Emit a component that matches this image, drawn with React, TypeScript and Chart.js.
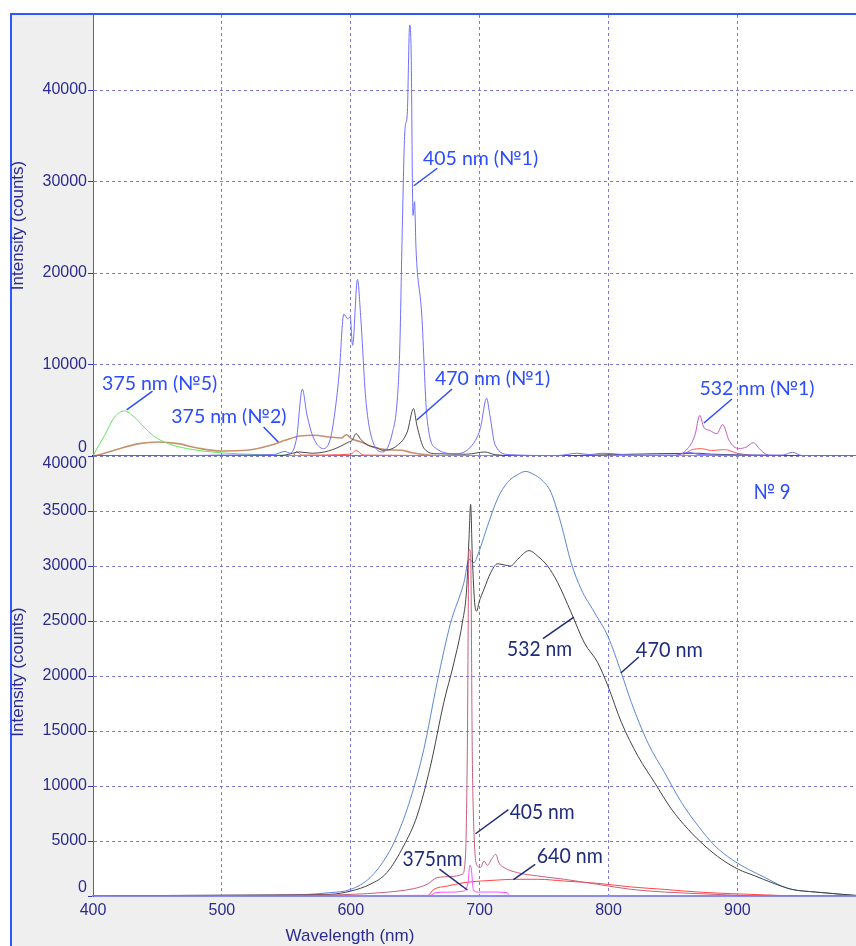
import { useEffect, useRef } from 'react';
import { Chart, registerables } from 'chart.js';
Chart.register(...registerables);

const WL_MIN = 400;
const WL_MAX = 992;
const xTicks = [400, 500, 600, 700, 800, 900];

// ---------- TOP PANEL (mixed sources) ----------
const top405X = [400, 450, 500, 540, 549, 553, 558, 562.4, 566, 571, 579, 584, 587, 591, 594.6, 597.6, 599.5, 601.4, 605.2, 607.8, 611.6, 617.3, 625, 632.4, 636, 638, 640, 642, 643.8, 645.7, 646.8, 648.3, 649.5, 650.6, 655.1, 659, 666.5, 681.6, 693, 700.5, 705.4, 708, 712, 723, 760, 776, 785, 795, 820, 852, 862, 871, 900, 935, 942.7, 950, 992];
const top405Y = [0, 0, 100, 150, 500, 300, 2000, 7300, 4500, 2000, 800, 1800, 4100, 9000, 15500, 15000, 15200, 12100, 19300, 15000, 6300, 1500, 440, 2600, 6000, 11700, 25000, 35600, 37300, 47100, 44500, 26300, 27800, 22700, 15400, 4400, 800, 250, 1000, 3000, 6300, 4400, 1200, 150, 50, 300, 150, 300, 100, 100, 400, 150, 100, 100, 400, 50, 0];

const top470X = [400, 540, 549, 560.5, 570, 579.5, 586, 590.8, 598.4, 601, 604.1, 607.8, 613.5, 620, 625, 636.2, 643.8, 648.7, 651.3, 657, 666.5, 690, 704, 712, 738, 870, 880, 992];
const top470Y = [0, 0, 100, 440, 300, 440, 700, 980, 1530, 1700, 2440, 1800, 1170, 900, 620, 1170, 2620, 5180, 3350, 800, 250, 200, 440, 150, 0, 300, 200, 0];

const top375n5X = [400, 401.6, 409, 416.8, 424.3, 432, 439.5, 447, 458.4, 473.5, 492.4, 511, 549, 587, 992];
const top375n5Y = [0, 440, 2260, 4260, 4920, 4260, 3170, 2190, 1350, 800, 440, 250, 80, 0, 0];

const top375n2X = [400, 405.4, 420.5, 435.7, 450.8, 466, 481, 500, 519, 537.8, 549, 560.5, 571.9, 583.2, 592.7, 596.5, 600.3, 607.8, 617.3, 628.6, 640, 647.6, 662.7, 680, 992];
const top375n2Y = [0, 150, 800, 1350, 1530, 1350, 875, 550, 620, 1170, 1710, 2190, 2260, 2080, 1970, 2330, 1900, 1530, 980, 690, 620, 360, 70, 0, 0];

const top532X = [400, 840, 851.9, 861.3, 867, 870.8, 873.8, 878.4, 884, 888.6, 893.5, 901, 906.8, 912.4, 917, 922, 927.5, 992];
const top532Y = [0, 0, 50, 800, 2260, 4450, 3170, 2800, 2440, 3430, 1710, 800, 980, 1460, 800, 200, 0, 0];

const topRedX = [400, 555, 558, 562, 600, 604, 610, 855, 865, 872, 880, 890, 900, 920, 992];
const topRedY = [0, 0, 500, 100, 200, 600, 100, 0, 700, 800, 600, 700, 300, 0, 0];

const topBaseX = [400, 992];
const topBaseY = [0, 0];

const topTicksY = [0, 10000, 20000, 30000, 40000];

// ---------- BOTTOM PANEL (sample № 9) ----------
const bot470X = [400, 540, 583.9, 600, 615, 628, 635.8, 646.2, 656.6, 667, 677.4, 687.8, 691.7, 695.6, 698.2, 706, 713.8, 721.6, 729.4, 735.8, 742.3, 747.5, 755.3, 763, 771, 778.7, 789, 799.5, 809.9, 817.7, 830.6, 843.6, 856.6, 869.6, 882.6, 895.6, 908.6, 921.6, 934.5, 942.3, 960.5, 981.3, 992];
const bot470Y = [0, 50, 300, 600, 1670, 3640, 5450, 8790, 13300, 19400, 24800, 28500, 30600, 30300, 30900, 33600, 36100, 37600, 38300, 38600, 38300, 37900, 36700, 33900, 30300, 27900, 25800, 23600, 20300, 17600, 13900, 11200, 8500, 6360, 4550, 3330, 2420, 1670, 900, 600, 360, 150, 50];

const bot532X = [400, 540, 583.9, 600, 615, 628, 641, 651.4, 661.8, 672.2, 680, 686.5, 689.9, 691.7, 693, 694.3, 696.1, 697.7, 699.5, 703.4, 708.6, 713.8, 719, 724, 729.4, 738.4, 745, 752.7, 760.5, 770.9, 781.3, 791.7, 799.5, 809.9, 822.9, 835.8, 848.8, 861.8, 874.8, 887.8, 900.8, 913.8, 926.8, 942.3, 960.5, 981.3, 992];
const bot532Y = [0, 100, 150, 450, 1060, 2120, 4550, 7270, 11800, 17600, 21200, 24800, 27900, 32400, 35600, 30900, 26700, 25900, 26700, 27900, 29400, 30200, 30100, 30000, 30600, 31400, 30900, 30000, 28500, 25800, 23000, 21200, 19100, 15800, 12700, 10300, 7900, 6060, 4550, 3330, 2420, 1820, 1210, 600, 360, 150, 50];

const bot405X = [400, 500, 583.9, 622.9, 648.8, 659.2, 667, 677.4, 686.5, 689, 690.4, 691.7, 693, 694.3, 695.6, 698.2, 700.8, 703.4, 706, 709.9, 712.5, 715, 719, 729.4, 745, 765.7, 791.7, 817.7, 843.6, 882.6, 921.6, 992];
const bot405Y = [0, 50, 100, 300, 670, 1060, 1670, 1760, 1970, 3640, 12700, 31500, 31200, 12700, 5760, 2730, 2600, 3180, 2800, 3480, 3790, 3000, 2580, 2120, 1820, 1520, 1060, 600, 360, 150, 0, 0];

const bot640X = [400, 659.2, 664.4, 674.8, 687.8, 700.8, 713.8, 726.8, 745, 765.7, 791.7, 817.7, 843.6, 869.6, 895.6, 921.6, 950, 992];
const bot640Y = [0, 0, 600, 900, 1210, 1360, 1450, 1520, 1520, 1360, 1150, 820, 600, 360, 210, 100, 0, 0];

const bot375X = [400, 661.8, 665.7, 674.8, 687.8, 690.9, 692.5, 693.5, 695.1, 698.2, 708.6, 721.6, 722.9, 992];
const bot375Y = [0, 60, 300, 350, 450, 1210, 2790, 2500, 600, 360, 360, 300, 0, 0];

const botTicksY = [0, 5000, 10000, 15000, 20000, 25000, 30000, 35000, 40000];

// ---------- annotations (data coordinates) ----------
const TOP_LABEL_COLOR = '#2b4cff';
const BOT_LABEL_COLOR = '#1f2c7c';
const topNotes = [
  { text: '405 nm (№1)', x: 700.7, y: 32460, l: [667.1, 31450, 649, 29540], w: 118 },
  { text: '470 nm (№1)', x: 710, y: 8420, l: [678.6, 7320, 651.2, 3930], w: 118 },
  { text: '375 nm (№5)', x: 451.7, y: 7870, l: [446.2, 7100, 426.1, 5030], w: 118 },
  { text: '375 nm (№2)', x: 505.4, y: 4260, l: [532.4, 3170, 543.7, 1530], w: 118 },
  { text: '532 nm (№1)', x: 915.2, y: 7320, l: [895.7, 6230, 874, 3610], w: 118 },
];
const botNotes = [
  { text: '532 nm', x: 746.5, y: 22450, l: [749.1, 23390, 773.1, 25360], w: 65 },
  { text: '470 nm', x: 847.2, y: 22360, l: [823.5, 21730, 809.5, 20270], w: 67 },
  { text: '405 nm', x: 748.5, y: 7640, l: [722.3, 7850, 696.8, 5660], w: 65 },
  { text: '375nm', x: 663.4, y: 3360, l: [668.8, 2450, 690.5, 545], w: 60 },
  { text: '640 nm', x: 769.9, y: 3640, l: [743.1, 2880, 726.2, 1480], w: 66 },
];
const botTag = { text: '№ 9', x: 926.8, y: 36720, w: 37 };

const TICK_COLOR = '#2b2b92';
const GRID_COLOR = '#7c7cd8';
const FRAME_COLOR = '#2f56ff';

const pts = (xs: number[], ys: number[]) => xs.map((x, i) => ({ x, y: ys[i] }));
const line = (label: string, xs: number[], ys: number[], color: string, width = 1) => ({
  label,
  data: pts(xs, ys),
  borderColor: color,
  borderWidth: width,
  pointRadius: 0,
  fill: false,
  cubicInterpolationMode: 'monotone' as const,
});

const panelPlugin = {
  id: 'panel',
  beforeDraw(chart: any, _a: any, opts: any) {
    const { ctx, chartArea: ca, width, height } = chart;
    ctx.save();
    ctx.fillStyle = '#ffffff';
    ctx.fillRect(0, 0, width, height);
    ctx.fillStyle = '#efefef';
    ctx.fillRect(12, opts.frameTop, width - 12, height - opts.frameTop);
    ctx.fillStyle = '#ffffff';
    ctx.fillRect(ca.left, ca.top, ca.right - ca.left, ca.bottom - ca.top);
    ctx.fillStyle = FRAME_COLOR;
    if (opts.frameTop > 0) ctx.fillRect(10, opts.frameTop - 2, width - 10, 2);
    ctx.fillRect(10, Math.max(0, opts.frameTop - 2), 2, height);
    ctx.restore();
  },
  afterDraw(chart: any, _a: any, opts: any) {
    const { ctx, chartArea: ca, scales } = chart;
    const sx = scales.x;
    const sy = scales.y;
    ctx.save();
    // y tick labels (kept inside the plot's vertical extent)
    ctx.font = '16px "Liberation Sans", Arial, sans-serif';
    ctx.fillStyle = TICK_COLOR;
    ctx.textAlign = 'right';
    ctx.textBaseline = 'middle';
    opts.ticks.forEach((v: number) => {
      let py = sy.getPixelForValue(v);
      py = Math.min(Math.max(py, ca.top + 8), ca.bottom - 8);
      ctx.fillText(String(v), ca.left - 6, py);
    });
    // y title
    ctx.save();
    ctx.translate(18, (ca.top + ca.bottom) / 2 + opts.titleShift);
    ctx.rotate(-Math.PI / 2);
    ctx.textAlign = 'center';
    ctx.font = '17px "Liberation Sans", Arial, sans-serif';
    ctx.fillText('Intensity (counts)', 0, 0);
    ctx.restore();
    if (opts.xTitle) {
      ctx.textAlign = 'center';
      ctx.font = '17px "Liberation Sans", Arial, sans-serif';
      ctx.fillText('Wavelength (nm)', 350, opts.xTitleY);
    }
    // annotations
    const drawNote = (n: any, color: string, font: string) => {
      ctx.strokeStyle = color;
      ctx.fillStyle = color;
      ctx.lineWidth = 1.5;
      if (n.l) {
        ctx.beginPath();
        ctx.moveTo(sx.getPixelForValue(n.l[0]), sy.getPixelForValue(n.l[1]));
        ctx.lineTo(sx.getPixelForValue(n.l[2]), sy.getPixelForValue(n.l[3]));
        ctx.stroke();
      }
      ctx.font = font;
      ctx.textAlign = 'center';
      ctx.textBaseline = 'middle';
      ctx.fillText(n.text, sx.getPixelForValue(n.x), sy.getPixelForValue(n.y), n.w);
    };
    opts.notes.forEach((n: any) => drawNote(n, opts.noteColor, opts.noteFont));
    if (opts.tag) drawNote(opts.tag, TOP_LABEL_COLOR, opts.tagFont);
    ctx.restore();
  },
};

const gridOpts = (drawTicks: boolean) => ({
  color: GRID_COLOR,
  lineWidth: 1,
  drawTicks,
  tickLength: 5,
  tickColor: '#3a3aa6',
  tickBorderDash: [],
});

function makeConfig(panel: 'top' | 'bottom'): any {
  const isTop = panel === 'top';
  const datasets = isTop
    ? [
        line('405 nm (№1)', top405X, top405Y, '#6f6fff'),
        line('470 nm (№1)', top470X, top470Y, '#4a4a4a'),
        line('532 nm (№1)', top532X, top532Y, '#c45cc4'),
        line('375 nm (№5)', top375n5X, top375n5Y, '#5ee85a'),
        line('375 nm (№2)', top375n2X, top375n2Y, '#c8906c', 1.6),
        line('other', topRedX, topRedY, '#ff5a4a'),
        line('base', topBaseX, topBaseY, '#3a2a9a', 2),
      ]
    : [
        line('405 nm', bot405X, bot405Y, '#c8607c'),
        line('375nm', bot375X, bot375Y, '#ff4cff'),
        line('640 nm', bot640X, bot640Y, '#ff4646'),
        line('532 nm', bot532X, bot532Y, '#444444'),
        line('470 nm', bot470X, bot470Y, '#5b86d2'),
      ];
  const yTicks = isTop ? topTicksY : botTicksY;
  return {
    type: 'line',
    data: { datasets },
    plugins: [panelPlugin],
    options: {
      animation: false,
      responsive: false,
      maintainAspectRatio: false,
      layout: { padding: { top: isTop ? 15 : 0, left: 0, right: 0, bottom: 0 }, autoPadding: false },
      plugins: {
        legend: { display: false },
        tooltip: { enabled: false },
        panel: {
          frameTop: isTop ? 15 : 0,
          ticks: yTicks,
          titleShift: isTop ? -10 : -4,
          xTitle: !isTop,
          xTitleY: 480,
          notes: isTop ? topNotes : botNotes,
          noteColor: isTop ? TOP_LABEL_COLOR : BOT_LABEL_COLOR,
          noteFont: isTop ? '19.5px Lato, "Open Sans", sans-serif' : '22px Lato, "Open Sans", sans-serif',
          tagFont: '21px Lato, "Open Sans", sans-serif',
          tag: isTop ? null : botTag,
        },
      },
      scales: {
        x: {
          type: 'linear',
          min: WL_MIN,
          max: WL_MAX,
          afterBuildTicks: (s: any) => {
            s.ticks = xTicks.map((v) => ({ value: v }));
          },
          ticks: {
            display: !isTop,
            maxRotation: 0,
            autoSkip: false,
            padding: 5,
            color: TICK_COLOR,
            font: { family: '"Liberation Sans", Arial, sans-serif', size: 16 },
          },
          grid: gridOpts(false),
          border: { display: true, color: isTop ? '#33338f' : '#8c8cf0', width: isTop ? 1.5 : 2, dash: [3, 3] },
          afterFit: (s: any) => {
            s.height = isTop ? 0 : 50;
          },
        },
        y: {
          min: 0,
          max: isTop ? 48200 : 40000,
          afterBuildTicks: (s: any) => {
            s.ticks = yTicks.map((v) => ({ value: v }));
          },
          ticks: { display: false },
          grid: gridOpts(true),
          border: { display: true, color: '#5a5ac4', width: 1, dash: [3, 3] },
          afterFit: (s: any) => {
            s.width = 93;
          },
        },
      },
    },
  };
}

function Panel({ panel, top, height }: { panel: 'top' | 'bottom'; top: number; height: number }) {
  const ref = useRef<HTMLCanvasElement | null>(null);
  useEffect(() => {
    if (!ref.current) return;
    const chart = new Chart(ref.current, makeConfig(panel));
    return () => chart.destroy();
  }, [panel]);
  return (
    <canvas
      ref={ref}
      width={856}
      height={height}
      style={{ position: 'absolute', left: 0, top, width: 856, height, display: 'block' }}
    />
  );
}

export default function App() {
  return (
    <div style={{ position: 'absolute', left: 0, top: 0, width: 856, height: 946, background: '#fff', overflow: 'hidden' }}>
      <Panel panel="top" top={0} height={456} />
      <Panel panel="bottom" top={456} height={490} />
    </div>
  );
}
